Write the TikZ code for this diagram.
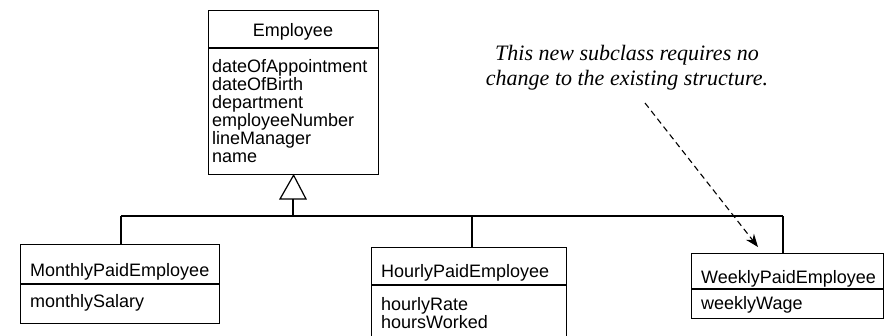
\documentclass[tikz,border=0pt]{standalone}
\usepackage{fontspec}
\setmainfont{Liberation Sans}
\newfontfamily\notefont{Liberation Serif}
\usetikzlibrary{arrows.meta}
\begin{document}
\begin{tikzpicture}[x=1pt,y=-1pt,
  box/.style={draw, line width=1.2pt, anchor=north west, inner sep=0pt},
  conn/.style={line width=1.2pt},
  lbl/.style={font=\fontsize{18}{18}\selectfont, inner sep=0pt, anchor=west},
  cls/.style={font=\fontsize{18}{18}\selectfont, inner sep=0pt},
  attrs/.style={font=\fontsize{18}{18}\selectfont, inner sep=0pt, anchor=north west, align=left},
  note/.style={font=\notefont\itshape\fontsize{22}{25}\selectfont, inner sep=0pt, align=center},
  dasharrow/.style={line width=1.1pt, dash pattern=on 6pt off 4pt, -{Stealth[length=13pt,width=10pt]}}]
\useasboundingbox (0,0) rectangle (888,335);
% Employee
\node[box, minimum width=170pt, minimum height=164pt] (emp) at (208,10) {};
\draw[conn] (208,48) -- (378,48);
\node[cls] (empname) at (293,32) {Employee};
\node[attrs] (empattr) at (212,59) {dateOfAppointment\\dateOfBirth\\department\\employeeNumber\\lineManager\\name};
% generalisation triangle
\coordinate (trib) at (293,199);
\draw[conn, line join=miter] (emp.south) -- (trib -| 280,0) -- (trib -| 306,0) -- cycle;
\coordinate (jc) at (293,216);
\coordinate (jm) at (121,216);
\coordinate (jh) at (472,216);
\coordinate (jw) at (783,216);
\draw[conn] (trib) -- (jc);
\draw[conn] (jm) -- (jw);
% Monthly
\node[box, minimum width=199pt, minimum height=79pt] (mon) at (20,244) {};
\draw[conn] (20,284) -- (219,284);
\node[lbl] (monname) at (30,272) {MonthlyPaidEmployee};
\node[lbl] (monattr) at (30,303) {monthlySalary};
\draw[conn] (jm) -- (jm |- mon.north);
% Hourly
\node[box, minimum width=195pt, minimum height=100pt] (hou) at (371,247) {};
\draw[conn] (371,285) -- (566,285);
\node[lbl] (houname) at (381,273) {HourlyPaidEmployee};
\node[attrs] (houattr) at (381,297) {hourlyRate\\hoursWorked};
\draw[conn] (jh) -- (jh |- hou.north);
% Weekly
\node[box, minimum width=192pt, minimum height=65pt] (wee) at (691,253) {};
\draw[conn] (691,289) -- (883,289);
\node[lbl] (weename) at (701,279) {WeeklyPaidEmployee};
\node[lbl] (weeattr) at (701,305) {weeklyWage};
\draw[conn] (jw) -- (jw |- wee.north);
% note
\node[note] (notetext) at (627,68) {This new subclass requires no\\change to the existing structure.};
\coordinate (arrstart) at (645,103);
\coordinate (arrend) at (758,247);
\draw[dasharrow] (arrstart) -- (arrend);
\end{tikzpicture}
\end{document}
